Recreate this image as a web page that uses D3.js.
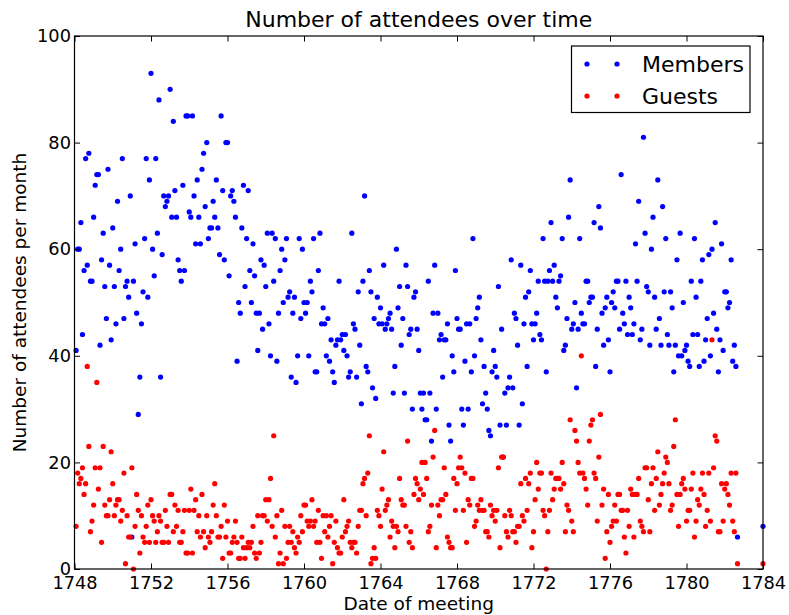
<!DOCTYPE html>
<html>
<head>
<meta charset="utf-8">
<script src="https://cdn.jsdelivr.net/npm/d3@7"></script>
<style>
  body { margin: 0; background: #fff; }
  svg { display: block; font-family: "DejaVu Sans", sans-serif; }
</style>
</head>
<body>
<svg id="chart" width="789" height="615"></svg>
<script>
// one value per monthly meeting, first meeting early 1748
var members = [
  41,60,60,65,44,56,77,57,78,54, 54,66,72,74,74,42,58,63,53,47,
  75,57,43,64,53,46,69,56,60,77, 47,53,54,51,70,6,54,61,48,29,
  36,46,52,62,77,51,73,93,60,55, 77,63,88,36,59,70,68,69,70,90,
  66,84,71,66,58,56,54,72,56,85,
  85,67,66,85,70,61,73,66,61,75, 78,68,80,62,64,64,69,66,73,64,
  59,85,71,58,80,80,55,70,71,69, 66,39,50,48,64,72,53,62,71,56,
  50,61,55,48,41,48,58,45,57,53, 63,46,40,63,54,62,39,48,56,60,
  50,58,62,51,52,36,48,51,35,40, 62,47,60,50,
  48,50,40,54,52,62,37,37,56,63, 46,49,46,40,47,39,43,37,35,42,
  43,54,43,44,41,44,40,36,37,63, 46,45,36,52,42,31,54,70,38,37,
  56,52,34,47,32,51,46,49,46,57, 45,46,47,48,45,33,38,60,49,53,
  42,47,33,57,53,44,45,30,51,52, 45,41,33,30,
  33,28,28,54,33,24,48,57,30,48, 43,44,36,43,43,46,27,24,40,37,
  56,47,45,45,30,27,39,46,30,46, 37,62,40,47,49,51,43,31,38,33,
  30,26,25,37,41,38,36,53,27,45, 21,33,27,34,36,58,34,48,47,42,
  27,57,31,46,51,38,52,56,46,43, 46,48,54,44,
  43,62,54,37,54,56,65,54,57,51, 49,54,55,62,41,42,47,66,73,45,
  46,50,34,45,62,48,46,46,54,54, 50,51,51,65,38,45,68,64,48,42,
  49,51,43,37,50,52,49,54,54,45, 74,48,46,54,44,51,49,44,46,61,
  54,69,43,45,81,63,53,52,42,60, 66,51,45,73,
  47,42,68,52,62,44,42,52,49,37, 42,58,40,63,40,50,41,42,39,38,
  54,44,62,51,44,38,54,58,39,43, 47,59,40,60,48,65,45,37,43,61,
  41,52,52,49,50,58,39,42,38,6
];
var guests = [
  8,18,16,17,19,14,16,38,23,7, 9,12,19,35,15,19,5,23,12,10,
  10,13,22,16,10,12,13,13,9,11, 18,1,10,6,6,19,0,8,14,11,
  3,10,6,5,8,12,5,13,10,9, 5,7,10,9,5,5,11,8,5,14,
  14,7,12,8,11,5,5,7,11,3,
  3,11,15,3,11,13,7,10,6,14, 7,4,10,6,5,7,12,16,10,6,
  6,8,2,12,6,9,3,3,5,6, 9,5,2,2,6,4,2,4,5,4,
  5,8,3,2,10,3,5,10,10,13, 9,13,17,8,25,6,10,1,3,11,
  1,8,2,5,8,5,7,4,3,6, 5,10,7,12,
  12,9,8,9,13,8,9,5,11,5, 2,10,7,10,6,8,10,1,5,9,
  4,3,3,6,13,7,8,9,5,4, 5,5,3,8,11,11,16,17,10,18,
  25,1,2,4,2,11,10,8,15,22, 11,12,13,6,9,8,4,8,7,17,
  13,12,12,8,24,5,7,4,14,17, 16,13,15,20,
  14,20,17,7,8,12,21,26,4,12, 10,13,13,19,14,6,5,4,4,17,
  11,16,19,21,19,11,18,5,13,12, 17,17,8,9,12,11,13,11,11,7,
  7,6,12,10,11,9,11,19,4,21, 21,10,7,6,11,10,7,7,5,8,
  8,16,10,9,17,11,16,18,4,7, 13,20,15,18,
  18,11,10,0,7,11,18,13,15,17, 17,17,15,20,16,7,12,11,28,9,
  7,26,24,20,18,40,18,17,15,12, 24,27,28,18,17,9,21,29,12,15,
  2,7,14,5,8,9,12,9,14,14, 11,11,6,3,11,8,15,14,6,14,
  14,17,9,8,7,19,19,13,7,16, 19,11,17,22,
  12,14,16,18,21,20,16,11,12,23, 28,14,8,14,16,17,15,9,11,11,
  15,18,6,9,13,12,15,18,14,8, 11,18,9,43,19,25,24,7,7,16,
  9,15,16,14,12,18,9,7,18,1
];
// a last, isolated meeting at the right edge
var lastMeeting = { year: 1784, members: 8, guests: 1 };

var xTicks = [1748, 1752, 1756, 1760, 1764, 1768, 1772, 1776, 1780, 1784];
var yTicks = [0, 20, 40, 60, 80, 100];
var seriesNames = ['Members', 'Guests'];
var seriesColors = ['#0000ff', '#ff0000'];

var plotLeft = 74.5, plotRight = 763, plotTop = 36, plotBottom = 569,
    tickLen = 5.5, dotR = 2.6;

function toPoints( values, last ) {
  var pts = values.map( function( v, i ) {
    return { year: 1748 + ( i + 1 ) / 12, value: v };
  } );
  pts.push( { year: lastMeeting.year, value: last } );
  return pts;
}

var svg = d3.select( '#chart' );

var x = d3.scaleLinear().domain( [1748, 1784] ).range( [plotLeft, plotRight] ),
    y = d3.scaleLinear().domain( [0, 100] ).range( [plotBottom, plotTop] );

// points
var seriesData = [
  toPoints( members, lastMeeting.members ),
  toPoints( guests, lastMeeting.guests )
];
seriesData.forEach( function( pts, k ) {
  svg.append( 'g' )
    .selectAll( 'circle' )
    .data( pts ).enter()
    .append( 'circle' )
      .attr( 'cx', function(d) { return x( d.year ); } )
      .attr( 'cy', function(d) { return y( d.value ); } )
      .attr( 'r', dotR )
      .attr( 'fill', seriesColors[k] );
} );

// axes: inward ticks on all four sides, like the original
var bottomAxis = d3.axisBottom( x ).tickValues( xTicks ).tickFormat( d3.format( 'd' ) )
      .tickSizeInner( -tickLen ).tickSizeOuter( 0 ).tickPadding( 7.5 ),
    topAxis = d3.axisTop( x ).tickValues( xTicks ).tickFormat( '' )
      .tickSizeInner( -tickLen ).tickSizeOuter( 0 ),
    leftAxis = d3.axisLeft( y ).tickValues( yTicks )
      .tickSizeInner( -tickLen ).tickSizeOuter( 0 ).tickPadding( 3.5 ),
    rightAxis = d3.axisRight( y ).tickValues( yTicks ).tickFormat( '' )
      .tickSizeInner( -tickLen ).tickSizeOuter( 0 );

var gb = svg.append( 'g' ).attr( 'transform', 'translate(0,' + plotBottom + ')' ).call( bottomAxis ),
    gt = svg.append( 'g' ).attr( 'transform', 'translate(0,' + plotTop + ')' ).call( topAxis ),
    gl = svg.append( 'g' ).attr( 'transform', 'translate(' + plotLeft + ',0)' ).call( leftAxis ),
    gr = svg.append( 'g' ).attr( 'transform', 'translate(' + plotRight + ',0)' ).call( rightAxis );

[gb, gt, gl, gr].forEach( function( g ) {
  g.select( '.domain' ).remove();
  g.selectAll( '.tick line' ).attr( 'stroke', '#000' ).attr( 'stroke-width', 1 );
  g.selectAll( '.tick text' )
    .attr( 'fill', '#000' )
    .style( 'font-family', '"DejaVu Sans", sans-serif' )
    .style( 'font-size', '17.8px' );
} );

// frame
svg.append( 'rect' )
  .attr( 'x', plotLeft ).attr( 'y', plotTop )
  .attr( 'width', plotRight - plotLeft ).attr( 'height', plotBottom - plotTop )
  .attr( 'fill', 'none' ).attr( 'stroke', '#000' ).attr( 'stroke-width', 1.2 );

// texts
svg.append( 'text' )
  .attr( 'x', ( plotLeft + plotRight ) / 2 ).attr( 'y', 27 )
  .attr( 'text-anchor', 'middle' )
  .style( 'font-size', '22px' )
  .text( 'Number of attendees over time' );

svg.append( 'text' )
  .attr( 'x', ( plotLeft + plotRight ) / 2 ).attr( 'y', 610 )
  .attr( 'text-anchor', 'middle' )
  .style( 'font-size', '18.5px' )
  .text( 'Date of meeting' );

svg.append( 'text' )
  .attr( 'transform', 'translate(26,' + ( ( plotTop + plotBottom ) / 2 ) + ') rotate(-90)' )
  .attr( 'text-anchor', 'middle' )
  .style( 'font-size', '18.5px' )
  .text( 'Number of attendees per month' );

// legend
var legend = svg.append( 'g' );
legend.append( 'rect' )
  .attr( 'x', 571.5 ).attr( 'y', 46 )
  .attr( 'width', 178.5 ).attr( 'height', 66.5 )
  .attr( 'fill', '#fff' ).attr( 'stroke', '#000' ).attr( 'stroke-width', 1.2 );

seriesNames.forEach( function( name, k ) {
  var cy = 64 + k * 32;
  [587, 617].forEach( function( cx ) {
    legend.append( 'circle' )
      .attr( 'cx', cx ).attr( 'cy', cy ).attr( 'r', dotR )
      .attr( 'fill', seriesColors[k] );
  } );
  legend.append( 'text' )
    .attr( 'x', 642 ).attr( 'y', cy + 7.5 )
    .style( 'font-size', '22px' )
    .text( name );
} );
</script>
</body>
</html>
